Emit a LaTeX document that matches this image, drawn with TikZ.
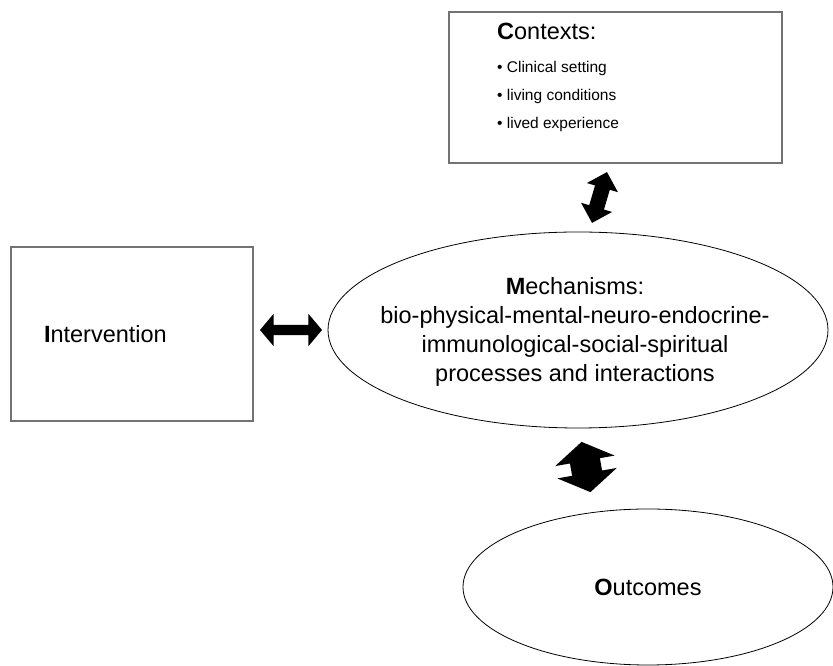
\documentclass[tikz,border=0pt]{standalone}
\usepackage{fontspec}
\setmainfont{Liberation Sans}
\usetikzlibrary{shapes.geometric,shapes.arrows}

\newcommand{\bigtext}{\fontsize{23.5}{29}\selectfont}
\newcommand{\smalltext}{\fontsize{15.5}{20}\selectfont}

\begin{document}
\begin{tikzpicture}[x=1pt,y=1pt,
    box/.style={draw=black!55,line width=1.6pt,fill=white},
    oval/.style={draw=black,ellipse,line width=0.8pt,inner sep=0pt},
    fatarrow/.style={draw=none,fill=black,double arrow,inner xsep=0pt,minimum width=0pt}]
    \useasboundingbox (0,0) rectangle (833,666);
    \fill [white] (0,0) rectangle (833,666);

    % contexts box
    \node[box,minimum width=333pt,minimum height=151pt] (contexts) at (615.5,578.5) {};
    \node[anchor=base west,inner sep=0pt,font=\bigtext] (ctxtitle) at (497,626) {\textbf{C}ontexts:};
    \node[anchor=base west,inner sep=0pt,font=\smalltext] (ctxclinic) at (497,593) {\textbullet\ Clinical setting};
    \node[anchor=base west,inner sep=0pt,font=\smalltext] (ctxliving) at (497,565) {\textbullet\ living conditions};
    \node[anchor=base west,inner sep=0pt,font=\smalltext] (ctxlived) at (497,537) {\textbullet\ lived experience};

    % intervention box
    \node[box,text width=176pt,inner xsep=33pt,inner ysep=0pt,minimum height=174pt,
          align=left,font=\bigtext] (intervention) at (132,332) {\textbf{I}ntervention};

    % mechanisms
    \node[oval,minimum width=500pt,minimum height=196pt] (mechanisms) at (578,336) {};
    \node[align=center,font=\bigtext] (mechtext) at (575,334)
        {\textbf{M}echanisms:\\ bio-physical-mental-neuro-endocrine-\\
         immunological-social-spiritual\\ processes and interactions};

    % outcomes
    \node[oval,minimum width=370pt,minimum height=156pt,font=\bigtext] (outcomes) at (648,79) {\textbf{O}utcomes};

    % block arrows
    \node[fatarrow,minimum height=62pt,inner ysep=5pt,double arrow head extend=11pt,
          double arrow tip angle=100] (arrint) at (291,336) {};
    \node[fatarrow,minimum height=53pt,inner ysep=7.5pt,double arrow head extend=8.5pt,
          double arrow tip angle=90,rotate=73.6] (arrctx) at (599.5,468.5) {};
    \node[fatarrow,minimum height=51pt,inner ysep=15pt,double arrow head extend=15pt,
          double arrow tip angle=115,rotate=100] (arrout) at (586,199) {};
\end{tikzpicture}
\end{document}
